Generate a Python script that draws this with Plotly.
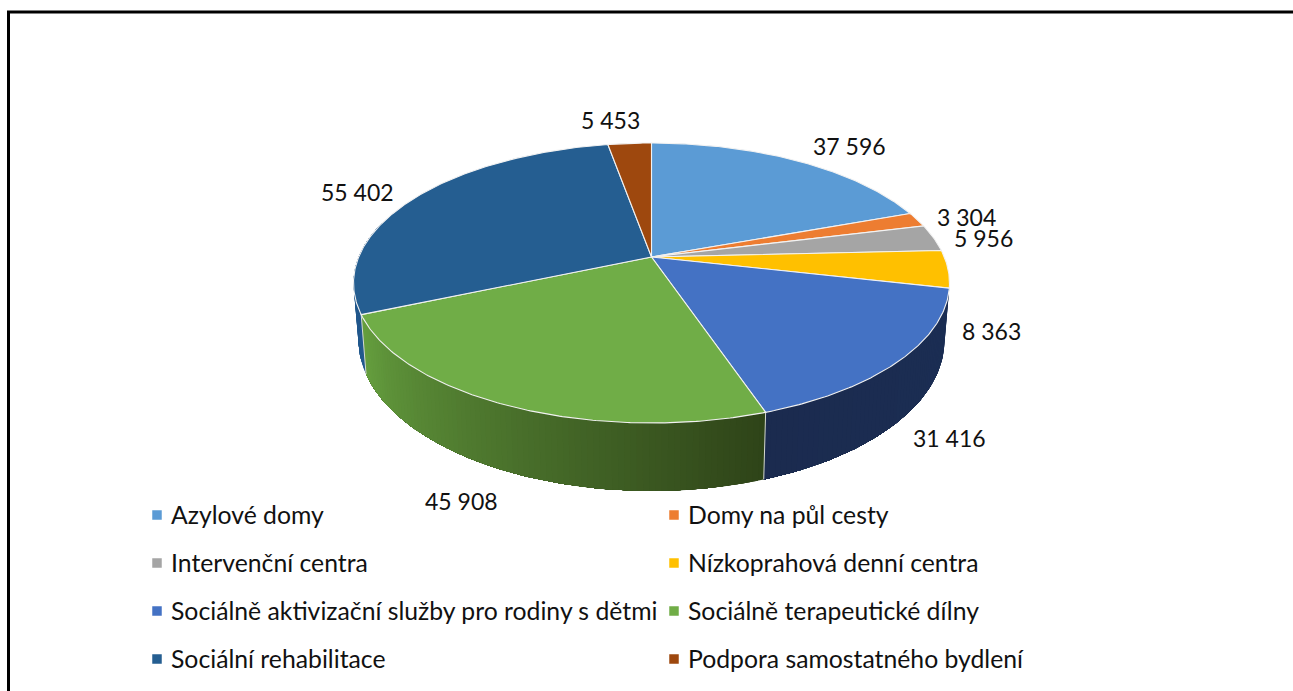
import math
import plotly.graph_objects as go

# ---- data ----
categories = [
    "Azylové domy", "Domy na půl cesty", "Intervenční centra",
    "Nízkoprahová denní centra", "Sociálně aktivizační služby pro rodiny s dětmi",
    "Sociálně terapeutické dílny", "Sociální rehabilitace", "Podpora samostatného bydlení",
]
values = [37596, 3304, 5956, 8363, 31416, 45908, 55402, 5453]

# ---- styles ----
top_colors = ["#5B9BD5", "#ED7D31", "#A5A5A5", "#FFC000", "#4472C4", "#70AD47", "#255E91", "#9E480E"]
wall_colors = [None, None, None, None, ("#1B2E54", "#1B2B4F"), ("#66A03F", "#2E4318"), ("#235A8E", "#1E5288"), None]
FONT = "Lato, Carlito, Calibri, sans-serif"
LABEL_SIZE = 23
LEGEND_SIZE = 24.75

# data-label and legend placement (pixels of the page)
label_pos = [(849, 146), (966, 217), (983, 238), (991, 331), (949, 438), (461, 501), (357, 192), (610, 120)]
legend_col_x = [157, 674]
legend_row_y = [515, 563, 611, 659]

# perspective disc model
CX = 651.5
TOP = dict(cy=283, rx=298, ry=140)
BOT = dict(cy=340, rx=293, ry=151)
K = 0.186


def project(deg, e):
    a = math.radians(deg)
    u, v = math.sin(a), math.cos(a)
    w = 1 + K * v
    x = CX + e["rx"] * math.sqrt(1 - K * K) * u / w
    y = e["cy"] - (e["ry"] * v + e["ry"] * K) / w
    return x, y


def arc(a0, a1, e, step=0.5):
    n = max(2, int(abs(a1 - a0) / step) + 1)
    return [project(a0 + (a1 - a0) * i / (n - 1), e) for i in range(n)]


def hex2rgb(h):
    return [int(h[i:i + 2], 16) for i in (1, 3, 5)]


def mix(c0, c1, t):
    a, b = hex2rgb(c0), hex2rgb(c1)
    return "rgb(%d,%d,%d)" % tuple(round(a[i] + (b[i] - a[i]) * t) for i in range(3))


total = sum(values)
cum = [0]
for val in values:
    cum.append(cum[-1] + val)
angles = [c / total * 360 for c in cum]

fig = go.Figure()

# side walls, painted as overlapping strips so the shading can vary without seams
for i, (name, wc) in enumerate(zip(categories, wall_colors)):
    if wc is None:
        continue
    a0, a1 = angles[i], min(angles[i + 1], 285)
    n = max(1, int((a1 - a0) / 1.0))
    for s in range(n):
        s0 = a0 + (a1 - a0) * s / n
        s1 = a1
        t = (s + 0.5) / n
        col = mix(wc[1], wc[0], t) if i == 5 else mix(wc[0], wc[1], t)
        pts = arc(s0, s1, TOP, 1.0) + arc(s1, s0, BOT, 1.0)
        fig.add_trace(go.Scatter(
            x=[p[0] for p in pts], y=[p[1] for p in pts], mode="lines", fill="toself",
            fillcolor=col, line=dict(width=0), hoverinfo="skip", showlegend=False))

# light seams between the visible walls
for a in (angles[5], angles[6]):
    p, q = project(a, TOP), project(a, BOT)
    fig.add_trace(go.Scatter(x=[p[0], q[0]], y=[p[1], q[1]], mode="lines",
                             line=dict(color="#D5D9D0", width=1), hoverinfo="skip", showlegend=False))

# top faces
apex = (CX, TOP["cy"] - TOP["ry"] * K)
for i, (name, val, col) in enumerate(zip(categories, values, top_colors)):
    pts = [apex] + arc(angles[i], angles[i + 1], TOP) + [apex]
    fig.add_trace(go.Scatter(
        x=[p[0] for p in pts], y=[p[1] for p in pts], mode="lines", fill="toself", fillcolor=col,
        line=dict(color="#F2F2F2", width=1.1), name=name, text=f"{name}: {val}", hoverinfo="text",
        hoveron="fills", showlegend=False))

# legend keys
for i, (name, col) in enumerate(zip(categories, top_colors)):
    lx, ly = legend_col_x[i % 2], legend_row_y[i // 2]
    fig.add_trace(go.Scatter(x=[lx], y=[ly], mode="markers", hoverinfo="skip", showlegend=False,
                             marker=dict(symbol="square", size=9.5, color=col, line=dict(width=0))))

annotations = []
for val, (lx, ly) in zip(values, label_pos):
    annotations.append(dict(x=lx, y=ly, text=f"{val:,}".replace(",", " "), showarrow=False,
                            font=dict(size=LABEL_SIZE), xanchor="center", yanchor="middle", xref="x", yref="y"))
for i, name in enumerate(categories):
    annotations.append(dict(x=legend_col_x[i % 2] + 14, y=legend_row_y[i // 2], text=name, showarrow=False,
                            font=dict(size=LEGEND_SIZE), xanchor="left", yanchor="middle", xref="x", yref="y",
                            xshift=-2, yshift=1))

frame = [
    dict(type="line", x0=8.5, x1=8.5, y0=12, y1=691, xref="x", yref="y", line=dict(color="#000", width=3)),
    dict(type="line", x0=7, x1=1293, y0=12, y1=12, xref="x", yref="y", line=dict(color="#000", width=3)),
]

fig.update_layout(
    width=1293, height=691, margin=dict(l=0, r=0, t=0, b=0), autosize=False,
    paper_bgcolor="white", plot_bgcolor="white",
    font=dict(family=FONT, size=LABEL_SIZE, color="#111111"),
    xaxis=dict(range=[0, 1293], visible=False, fixedrange=True),
    yaxis=dict(range=[691, 0], visible=False, fixedrange=True),
    annotations=annotations, shapes=frame, showlegend=False,
)

fig.write_html("out.html", config=dict(displayModeBar=False),
               post_script="document.body.style.margin='0';document.body.style.overflow='hidden';")
